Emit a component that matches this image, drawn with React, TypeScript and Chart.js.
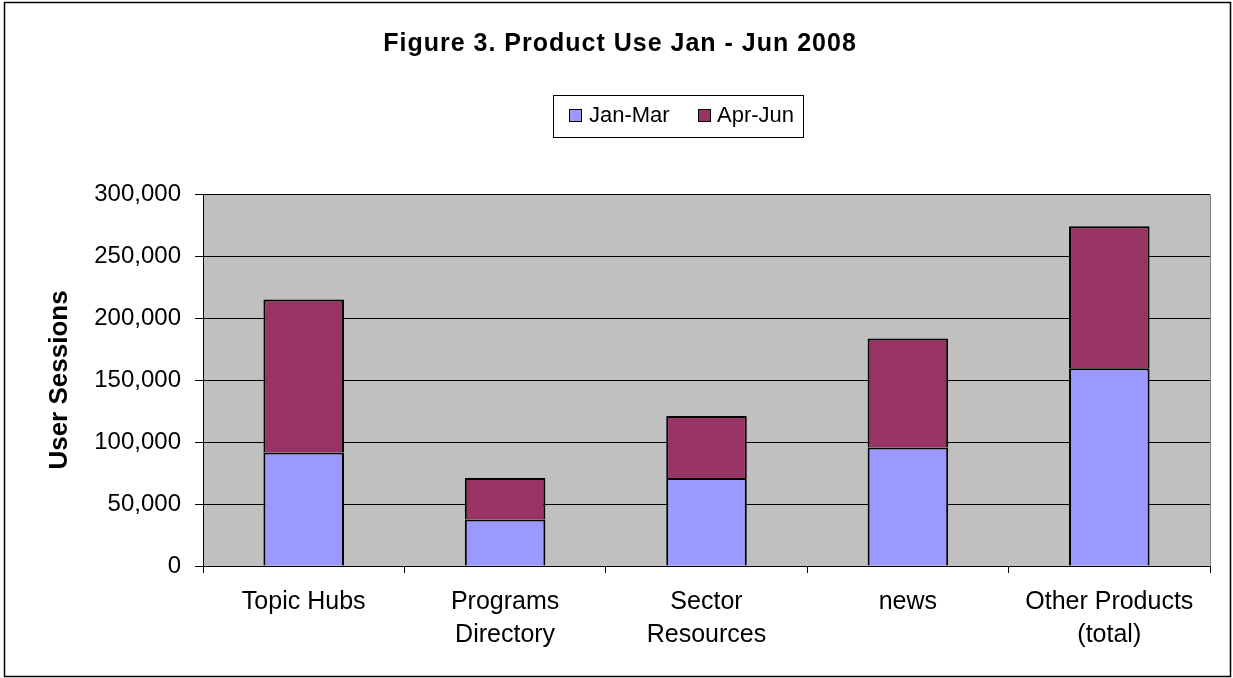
import React, { useEffect, useRef } from "react";
import { Chart, registerables } from "chart.js";

Chart.register(...registerables);

const categories: (string | string[])[] = [
  "Topic Hubs",
  ["Programs", "Directory"],
  ["Sector", "Resources"],
  "news",
  ["Other Products", "(total)"],
];
const janMar = [91500, 37500, 71000, 95500, 159500];
const aprJun = [123500, 33500, 50000, 88000, 114500];
const seriesNames = ["Jan-Mar", "Apr-Jun"];
const seriesColors = ["#9999FF", "#993366"];
const chartTitle = "Figure 3. Product Use Jan - Jun 2008";
const yAxisTitle = "User Sessions";

const FONT = "Arial, 'Liberation Sans', sans-serif";

const decorPlugin = {
  id: "decor",
  beforeDraw(chart: any) {
    const { ctx, chartArea } = chart;
    ctx.save();
    ctx.fillStyle = "#ffffff";
    ctx.fillRect(0, 0, chart.width, chart.height);
    ctx.fillStyle = "#C0C0C0";
    ctx.fillRect(chartArea.left, chartArea.top, chartArea.right - chartArea.left, chartArea.bottom - chartArea.top);
    ctx.strokeStyle = "#808080";
    ctx.lineWidth = 1;
    ctx.beginPath();
    ctx.moveTo(chartArea.left, chartArea.top + 0.5);
    ctx.lineTo(chartArea.right + 0.5, chartArea.top + 0.5);
    ctx.lineTo(chartArea.right + 0.5, chartArea.bottom);
    ctx.stroke();
    ctx.restore();
  },
  afterDraw(chart: any) {
    const { ctx } = chart;
    ctx.save();
    // outer frame
    ctx.strokeStyle = "#000";
    ctx.lineWidth = 1.5;
    ctx.strokeRect(4.5, 2.5, 1226, 674);
    // title
    ctx.fillStyle = "#000";
    ctx.font = `bold 25px ${FONT}`;
    (ctx as any).letterSpacing = "1px";
    ctx.textAlign = "center";
    ctx.textBaseline = "alphabetic";
    ctx.fillText(chartTitle, 620, 51);
    (ctx as any).letterSpacing = "0px";
    // legend
    ctx.lineWidth = 1;
    ctx.strokeStyle = "#000";
    ctx.strokeRect(553.5, 95.5, 250, 42);
    const sq = [569, 698];
    const tx = [589, 717];
    ctx.font = `22px ${FONT}`;
    ctx.textAlign = "left";
    for (let i = 0; i < 2; i++) {
      ctx.fillStyle = seriesColors[i];
      ctx.fillRect(sq[i] + 0.5, 109.5, 12, 12);
      ctx.strokeStyle = "#000";
      ctx.strokeRect(sq[i] + 0.5, 109.5, 12, 12);
      ctx.fillStyle = "#000";
      ctx.fillText(seriesNames[i], tx[i], 122);
    }
    ctx.restore();
  },
};

export default function App() {
  const ref = useRef<HTMLCanvasElement | null>(null);
  useEffect(() => {
    document.body.style.margin = "0";
    const canvas = ref.current!;
    const chart = new Chart(canvas, {
      type: "bar",
      data: {
        labels: categories as any,
        datasets: [
          {
            label: seriesNames[0],
            data: janMar,
            backgroundColor: seriesColors[0],
            borderColor: "#000",
            borderWidth: 2,
            categoryPercentage: 0.4,
            barPercentage: 1,
          },
          {
            label: seriesNames[1],
            data: aprJun,
            backgroundColor: seriesColors[1],
            borderColor: "#000",
            borderWidth: 2,
            categoryPercentage: 0.4,
            barPercentage: 1,
          },
        ],
      },
      options: {
        animation: false,
        responsive: false,
        maintainAspectRatio: false,
        devicePixelRatio: 1,
        layout: { padding: { top: 194, left: 0, right: 23, bottom: 0 } },
        plugins: {
          legend: { display: false },
          title: { display: false },
          tooltip: { enabled: false },
        },
        scales: {
          x: {
            stacked: true,
            grid: {
              display: true,
              offset: true,
              drawOnChartArea: false,
              drawTicks: true,
              tickLength: 7,
              color: "#000",
            },
            border: { display: true, color: "#000", width: 1 },
            ticks: {
              color: "#000",
              font: { family: FONT, size: 25, lineHeight: 1.3 },
              padding: 13,
              maxRotation: 0,
              autoSkip: false,
            },
            afterFit(scale: any) {
              scale.height = 678 - 566;
            },
          },
          y: {
            stacked: true,
            min: 0,
            max: 300000,
            grid: {
              color: "#000",
              tickLength: 8,
              drawTicks: true,
            },
            border: { display: true, color: "#000", width: 1 },
            ticks: {
              stepSize: 50000,
              color: "#000",
              font: { family: FONT, size: 24 },
              padding: 14,
              callback: (v: any) => Number(v).toLocaleString("en-US"),
            },
            title: {
              display: true,
              text: yAxisTitle,
              color: "#000",
              font: { family: FONT, size: 26, weight: "bold" },
              padding: { top: 44, bottom: 0 },
            },
            afterFit(scale: any) {
              scale.width = 203;
            },
          },
        },
      },
      plugins: [decorPlugin],
    });
    return () => chart.destroy();
  }, []);
  return (
    <div style={{ width: 1233, height: 678 }}>
      <canvas ref={ref} width={1233} height={678} style={{ display: "block" }} />
    </div>
  );
}
